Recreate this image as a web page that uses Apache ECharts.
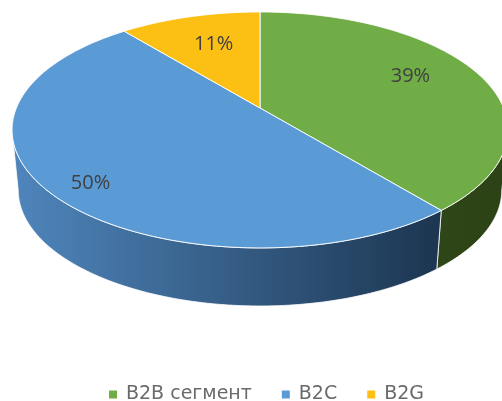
<!DOCTYPE html>
<html><head><meta charset="utf-8">
<style>html,body{margin:0;padding:0;background:#fff}#c{width:502px;height:401px}</style>
<script src="https://cdn.jsdelivr.net/npm/echarts@6/dist/echarts.min.js"></script>
</head><body><div id="c"></div>
<script>
const categories = ['B2B сегмент', 'B2C', 'B2G'];
const shares = [39, 50, 11];
const topColors = ['#70ad47', '#5b9bd5', '#fcbf14'];
const wallFrom = ['#2f4618', '#4f86bd', '#a07a00'];
const wallTo = ['#2c4216', '#1c3550', '#a07a00'];

// Perspective view of a unit disc (layout only)
const VIEW = {cx: 260, cy: 108, A: 113.9, B: 243.6, k: 0.186,
              bcy: 168.4, bA: 112, bB: 237.6};
const LABEL = {r: [0.72, 0.85, 0.67], dTheta: [-5.2, -3.5, 1.3], dy: 1};
const tangent = Math.acos(-VIEW.k) * 180 / Math.PI;       // right tangent of the rim
const wallRange = [tangent, 360 - tangent];

function topPoint(deg, r) {
  const t = deg * Math.PI / 180, u = r * Math.sin(t), v = -r * Math.cos(t), w = 1 - VIEW.k * v;
  return [VIEW.cx + VIEW.B * u / w, VIEW.cy + VIEW.A * v / w];
}
function bottomPoint(deg) {
  const t = deg * Math.PI / 180, u = Math.sin(t), v = -Math.cos(t), w = 1 - VIEW.k * v;
  return [VIEW.cx + VIEW.bB * u / w, VIEW.bcy + VIEW.bA * v / w];
}
function arc(fn, a, b) {
  const pts = [], n = Math.max(2, Math.ceil(Math.abs(b - a)));
  for (let i = 0; i <= n; i++) pts.push(fn(a + (b - a) * i / n));
  return pts;
}
const total = shares.reduce((s, x) => s + x, 0);
const spans = [];
shares.reduce((acc, x, i) => { spans[i] = [acc, acc + x / total * 360]; return spans[i][1]; }, 0);

function renderSlice(i) {
  const [a, b] = spans[i];
  const children = [];
  const wa = Math.max(a, wallRange[0]), wb = Math.min(b, wallRange[1]);
  if (wb > wa) {
    const upper = arc(d => topPoint(d, 1), wa, wb);
    const lower = arc(bottomPoint, wa, wb);
    children.push({
      type: 'polygon', z2: 1,
      shape: {points: upper.concat(lower.slice().reverse())},
      style: {
        // bounding-box gradient, dark side to the right
        fill: new echarts.graphic.LinearGradient(0, 0, 1, 0,
          [{offset: 0, color: wallFrom[i]}, {offset: 1, color: wallTo[i]}]),
        stroke: '#ffffff', lineWidth: 0.8
      }
    });
  }
  const rim = arc(d => topPoint(d, 1), a, b);
  children.push({
    type: 'polygon', z2: 2,
    shape: {points: [[VIEW.cx, VIEW.cy]].concat(rim)},
    style: {fill: topColors[i], stroke: '#ffffff', lineWidth: 0.9}
  });
  const lp = topPoint((a + b) / 2 + LABEL.dTheta[i], LABEL.r[i]);
  children.push({
    type: 'text', z2: 3,
    style: {
      x: lp[0], y: lp[1] + LABEL.dy, text: shares[i] + '%', align: 'center', verticalAlign: 'middle',
      font: '20px "Open Sans", sans-serif', fill: '#404040'
    }
  });
  return {type: 'group', children};
}

const chart = echarts.init(document.getElementById('c'), null, {renderer: 'canvas'});
chart.setOption({
  animation: false,
  backgroundColor: '#ffffff',
  legend: {
    data: categories, left: 104, top: 380, icon: 'rect',
    itemWidth: 8, itemHeight: 8, itemGap: 30,
    textStyle: {fontFamily: '"DejaVu Sans", sans-serif', fontSize: 19, color: '#6a6a6a', padding: [0, 0, 0, 4]}
  },
  series: categories.map((name, i) => ({
    type: 'custom', name, coordinateSystem: 'none',
    itemStyle: {color: topColors[i]},
    data: [shares[i]],
    renderItem: () => renderSlice(i),
    silent: true
  }))
});
</script></body></html>
